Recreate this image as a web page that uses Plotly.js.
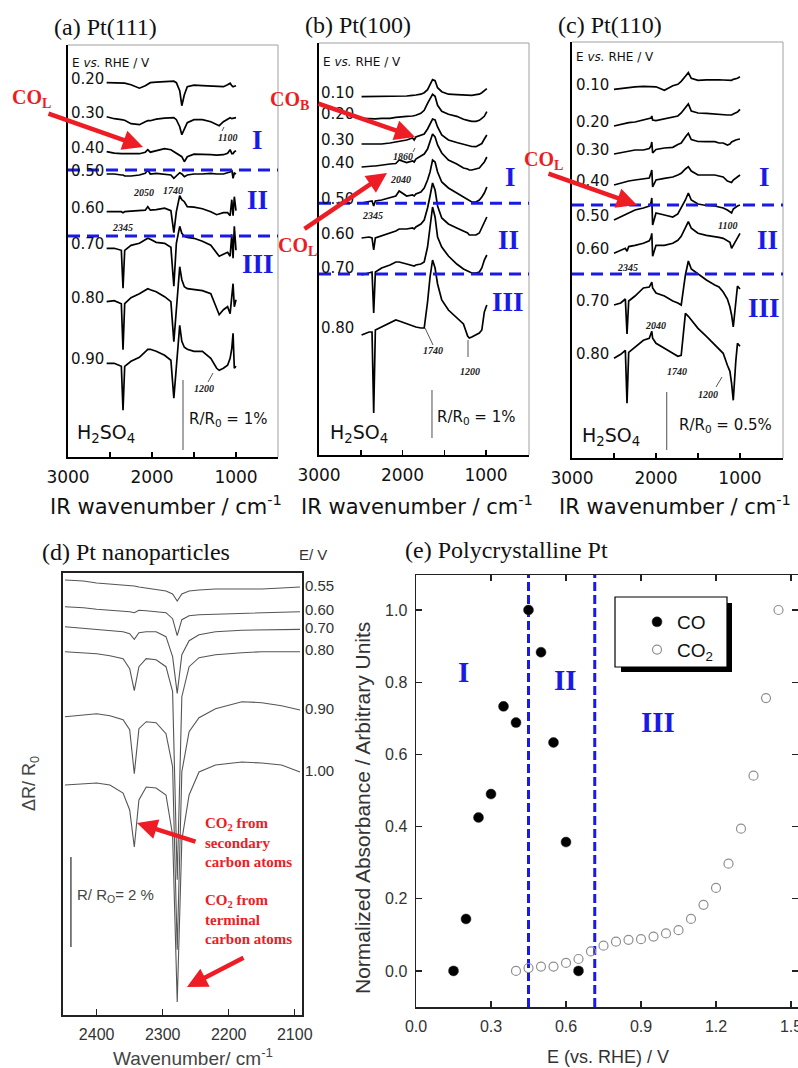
<!DOCTYPE html>
<html><head><meta charset="utf-8">
<script src="https://cdn.plot.ly/plotly-3.0.1.min.js"></script>
<style>html,body{margin:0;padding:0;background:#fff}#chart{width:798px;height:1068px}</style>
</head><body><div id="chart"></div>
<script>
// ================= DATA =================
// Panel (a) Pt(111): potentials (V vs RHE), wavenumbers (cm-1), spectra (arb. units, stacked)
const aPotentials = ['0.20','0.30','0.40','0.50','0.60','0.70','0.80','0.90'];
const aWavenumber = [2540,2450,2365,2345,2325,2250,2150,2080,2050,2020,1950,1850,1775,1740,1710,1670,1645,1615,1580,1500,1400,1300,1230,1200,1150,1100,1070,1050,1035,1020,1000];
const aOffset = [374.3,340.3,305.3,282,245.3,208.7,155.3,93.7];
const a020 = [0,0,-0.5,-0.5,-0.5,-2,-5.5,-3,-1.5,0,0.5,1,1.5,1.5,0,-8,-23,-12,-4,-2.5,-3,-3.5,-4,-4,-4,-2,-0.5,-3,-4,-3.5,-3];
const a030 = [0,-2,-3,-3,-3.5,-7,-8,-5,-4,-4,-2.5,-1.5,-0.7,-1,-3,-10,-18,-13,-6,-3,-3,-5,-8,-9,-5,-2,-1,-2,-1.5,-1,-1];
const a040 = [0,-1.5,-2,-2,-2,-2.5,-2,-0.5,2,-0.5,1,3,2,0,-2,-4,-5,-10,-5,-2.5,-2.5,-3,-3.5,-3.5,-3,-1.5,2,-2,-2,0,1];
const a050 = [1,1,0,0,-1,-1,0,1.7,5,1,1.7,1,0,-3.3,-1,2.3,1,-1.7,0,1,1,1.7,1,1,1,2.3,3,5,-3.3,2,1];
const a060 = [0,0,0,-1,0,0.5,1,1.5,5,1.5,2,3.5,1,-21,0,16,12,10,5,4.5,3,0,-3,-2,-1,-1,-4,12,-4,15,1];
const a070 = [0,0,-2,-40,-2,3,5,8,10,9,6,5,1,-38,5,22,15,12,11,10,7,3,-5,-8,-6,-4,-8,14,-10,22,-2];
const a080 = [0,1,-2,-48,-2,4,8,12,13,12,10,5,0,-40,-5,35,22,15,13,12,11,8,-8,-13,-8,-5,-12,5,18,-5,2];
const a090 = [0,0,-3,-47,-3,2,6,11,14,14,12,8,3,-35,-5,38,22,16,14,12,12,5,-5,-7,-5,-2,5,15,30,-5,-3];

// Panel (b) Pt(100)
const bPotentials = ['0.10','0.20','0.30','0.40','0.50','0.60','0.70','0.80'];
const bWavenumber = [2490,2400,2365,2345,2325,2250,2150,2080,2040,1950,1880,1860,1840,1780,1740,1700,1670,1640,1610,1580,1530,1450,1350,1270,1220,1200,1170,1120,1080,1050,1020,990];
const bOffset = [358.3,336.7,311,288,252,217,183,123];
const b010 = [0,0,0,0,0,0,0.3,0.5,0.5,0.7,1.3,1.7,1.7,2.5,4,7,12,17,16,9,5,2.5,2,1.5,1.5,1.5,1.3,2,2.5,4,6,8];
const b020 = [0,-0.5,-0.5,-0.5,-0.5,0,0,1,1.5,2,2.3,2.3,3,5,8,15,20,24,22,13,7,4,2,-1,-2,-2.5,-3,-3,-2,0,2,6.7];
const b030 = [0,0,0,0,-0.3,0,1,2,3,4,6,4,7,9,10,15,20,25,24,17,9,4,1.5,-0.5,-1.5,-2,-2.5,-2.7,-1,0.5,5,9];
const b040 = [0,1,1,1,1,2,3,3.5,7,4.5,6,5,8,11,13,18,25,33,30,22,14,7,3,-1,-2,-3,-3,-2,-1,2,5,10];
const b050 = [0,1,2,-3,2,3,5,7,12,7,8,7,9,11,15,23,31,43,41,31,21,15,10,6,3,2,1,1,3,6,10,16];
const b060 = [0,1,0,-12,0,2,5,7,9,9,10,9,11,14,18,30,42,55,48,32,20,14,10,7,5,3,3,3,5,10,15,21];
const b070 = [-3,-1,0,-41,0,4,7,10,10,8,6,6,7,8,10,25,45,65,55,35,25,16,8,3,1,0,-1,-1,0,4,12,17];
const b080 = [-3,0,0,-81,2,5,9,12,11,8,6,5,5,4,4,30,55,72,64,48,32,22,14,8,-4,-6,-5,-3,-1,2,20,27];

// Panel (c) Pt(110)
const cPotentials = ['0.10','0.20','0.30','0.40','0.50','0.60','0.70','0.80'];
const cWavenumber = [2500,2420,2365,2345,2325,2250,2150,2080,2060,2050,2040,2000,1900,1800,1740,1700,1650,1615,1580,1500,1400,1300,1250,1200,1150,1120,1100,1080,1050,1030,1000];
const cOffset = [368.7,332,304,273,238,204.7,153,99.7];
const c010 = [0,1,1.5,2,2,2.5,3,3,3,3,3,2.5,-1,3.5,5,8,13,16.7,11,9,9.5,10,9.5,9.3,9.3,9,9,10,10.5,11,12.5];
const c020 = [0,1.5,2.5,3,3.3,4,6,7.5,8,10,6,5.3,7,8.7,10,13,19,22,15,13,12.7,12,11,11,11,11,11,12,13,14,16.7];
const c030 = [0,1.5,2,2.5,3,4,4,5.5,8,12,1,4.5,6,6.7,9.5,11,17,20.7,14.5,12.5,12.3,12.3,11,11,9,10,12,13,14,14.5,15];
const c040 = [0,2,3,3.3,4,5,6,7,12,15,-2,5,6.7,8,10,11.7,16,18.3,14,10,10,10,9,8,4,3,2.5,5,7,8.5,10];
const c050 = [0,3,5,6,7,10,12,14,17,22,-5,7,5,3,6,12,20,27,20,16,14.5,14,13,12,10,8,7,11,13,14,15];
const c060 = [0,3,5,2,6.7,8,10,12.5,16,20,-3,8,8,10,13,17,25,31.7,25,20,18,17,16,15,13,11,5,8,13,17,20];
const c070 = [0,2,6,-29,4,9,17,18,21,23,17,12,9,4,2,0,30,44,36,31,25,20,18,13,6,-2,-10,-22,0,19,16];
const c080 = [0,4,8,-45,6,11,18,20,25,27,20,15,10,5,2,3,45,42,38,30,22,14,10,5,-7,-13,-25,-42,-3,15,12];

// Panel (d) Pt nanoparticles
const dPotentials = ['0.55','0.60','0.70','0.80','0.90','1.00'];
const dWavenumber = [2448,2420,2400,2380,2360,2350,2343,2336,2325,2310,2295,2285,2278,2271,2260,2245,2220,2180,2150,2120,2092];
const dOffset = [435,408.3,388.3,363.3,298.3,230];
const d055 = [0,-1,-3,-4,-5,-6,-6,-7,-8,-9,-11,-14,-21,-14,-11,-10,-9,-9,-9,-8,-7];
const d060 = [0,-1,-2.5,-3.5,-4,-5,-6,-3.5,-4,-5,-6,-12,-29,-13,-9,-8,-7.5,-7,-6.5,-6,-5];
const d070 = [0,-1.5,-2.7,-4,-5,-7,-12.7,-6,-5,-5,-10,-30,-66.7,-28,-14,-8,-5,-3.5,-3.3,-3.3,-2.7];
const d080 = [0,-1,-2,-4,-7,-17,-39,-15,-7,-8,-15,-40,-228,-45,-15,-6,-3,-1,0,0,0];
const d090 = [0,2,3,1,-3,-13,-57,-12,-5,-6,-17,-50,-233,-55,-15,-1,8,15,14,11,6.7];
const d100 = [0,1.5,2,0,-8,-25,-62,-15,-2,-3,-10,-50,-217,-55,-10,13,20,23,22,20,13];

// Panel (e) Polycrystalline Pt: normalized absorbance vs potential
const eCOPotential = [0.15,0.20,0.25,0.30,0.35,0.40,0.45,0.50,0.55,0.60,0.65];
const eCOAbsorbance = [0.0,0.144,0.425,0.49,0.733,0.688,1.0,0.883,0.633,0.357,0.0];
const eCO2Potential = [0.40,0.45,0.50,0.55,0.60,0.65,0.70,0.75,0.80,0.85,0.90,0.95,1.00,1.05,1.10,1.15,1.20,1.25,1.30,1.35,1.40,1.45];
const eCO2Absorbance = [0.0,0.008,0.012,0.012,0.022,0.033,0.054,0.07,0.081,0.086,0.088,0.095,0.104,0.113,0.144,0.183,0.23,0.297,0.394,0.541,0.756,1.0];
const eRegionBounds = [0.45, 0.715];

// ================= BUILD =================
const W = 798, H = 1068;
const X = px => px / W;
const Y = py => 1 - py / H;
const BLUE = '#1a1ae6', RED = '#ee1c24';
const SANS = 'DejaVu Sans', ARIAL = 'Liberation Sans', SERIF = 'Liberation Serif';

function stack(wn, spectra, offsets, xa, ya, color, width) {
  return spectra.map((s, i) => ({
    type: 'scatter', mode: 'lines', x: wn, y: s.map(v => v + offsets[i]),
    xaxis: xa, yaxis: ya, line: {color: color, width: width}, showlegend: false, hoverinfo: 'skip'
  }));
}

const traces = [].concat(
  stack(aWavenumber, [a020,a030,a040,a050,a060,a070,a080,a090], aOffset, 'x', 'y', '#000', 1.7),
  stack(bWavenumber, [b010,b020,b030,b040,b050,b060,b070,b080], bOffset, 'x2', 'y2', '#000', 1.7),
  stack(cWavenumber, [c010,c020,c030,c040,c050,c060,c070,c080], cOffset, 'x3', 'y3', '#000', 1.7),
  stack(dWavenumber, [d055,d060,d070,d080,d090,d100], dOffset, 'x4', 'y4', '#555', 1.1)
);
traces.push({type:'scatter', mode:'markers', x:eCOPotential, y:eCOAbsorbance, xaxis:'x5', yaxis:'y5',
  name:'CO', legendgroup:'g1', marker:{color:'#000', size:10, line:{color:'#333', width:0.5}}, hoverinfo:'skip'});
traces.push({type:'scatter', mode:'markers', x:eCO2Potential, y:eCO2Absorbance, xaxis:'x5', yaxis:'y5',
  name:'CO<sub>2</sub>', legendgroup:'g2', marker:{color:'#8f8f8f', size:9, symbol:'circle-open', line:{color:'#8f8f8f', width:1.2}}, hoverinfo:'skip'});

const topX = {showline:true, linecolor:'#000', linewidth:2, ticks:'inside', ticklen:5, tickwidth:1.5, tickcolor:'#000',
  tickvals:[3000,2000,1000], ticktext:['3000','2000','1000'], ticklabelstandoff:4,
  minor:{tickvals:[2500,1500], ticks:'inside', ticklen:5, tickwidth:1.5, tickcolor:'#000', showgrid:false},
  tickfont:{family:SANS, size:17, color:'#111'}, showgrid:false, zeroline:false, fixedrange:true};
const topY = {showline:true, linecolor:'#000', linewidth:2, showticklabels:false, ticks:'', showgrid:false, zeroline:false, fixedrange:true};

const layout = {
  width: W, height: H, margin: {l:0, r:0, t:0, b:0}, paper_bgcolor:'#fff', plot_bgcolor:'rgba(0,0,0,0)',
  font: {family: SANS, color:'#111'},
  xaxis: Object.assign({}, topX, {domain:[X(68), X(278)], anchor:'y', range:[3000, 500]}),
  yaxis: Object.assign({}, topY, {domain:[Y(457), Y(45)], anchor:'x', range:[0, 412]}),
  xaxis2: Object.assign({}, topX, {domain:[X(319), X(529)], anchor:'y2', range:[3000, 485]}),
  yaxis2: Object.assign({}, topY, {domain:[Y(455), Y(43)], anchor:'x2', range:[0, 412]}),
  xaxis3: Object.assign({}, topX, {domain:[X(572), X(783)], anchor:'y3', range:[3000, 488]}),
  yaxis3: Object.assign({}, topY, {domain:[Y(458), Y(42)], anchor:'x3', range:[0, 416]}),
  xaxis4: {domain:[X(63), X(302)], anchor:'y4', range:[2451, 2089], showline:true, mirror:true, linecolor:'#222', linewidth:2,
    ticks:'inside', ticklen:6, tickwidth:1.5, tickcolor:'#222', tickvals:[2400,2300,2200,2100], ticklabelstandoff:4,
    tickfont:{family:ARIAL, size:16, color:'#333'}, showgrid:false, zeroline:false},
  yaxis4: {domain:[Y(1015), Y(573)], anchor:'x4', range:[0, 442], showline:true, mirror:true, linecolor:'#222', linewidth:2,
    showticklabels:false, ticks:'', showgrid:false, zeroline:false},
  xaxis5: {domain:[X(416), X(798)], anchor:'y5', range:[0, 1.528], showline:true, mirror:'ticks', linecolor:'#222', linewidth:1.5,
    ticks:'inside', ticklen:6, tickwidth:1.2, tickcolor:'#222', tickvals:[0,0.3,0.6,0.9,1.2,1.5], ticktext:['0.0','0.3','0.6','0.9','1.2','1.5'],
    ticklabeloverflow:'allow', ticklabelstandoff:4, tickfont:{family:ARIAL, size:16, color:'#333'}, showgrid:false, zeroline:false},
  yaxis5: {domain:[Y(1007), Y(575)], anchor:'x5', range:[-0.1, 1.097], showline:true, mirror:'ticks', linecolor:'#222', linewidth:1.5,
    ticks:'inside', ticklen:6, tickwidth:1.2, tickcolor:'#222', tickvals:[0,0.2,0.4,0.6,0.8,1.0], ticktext:['0.0','0.2','0.4','0.6','0.8','1.0'],
    ticklabelstandoff:4, tickfont:{family:ARIAL, size:16, color:'#333'}, showgrid:false, zeroline:false},
  showlegend: true,
  legend: {x: X(637), y: Y(603), xanchor:'left', yanchor:'top', bgcolor:'rgba(0,0,0,0)', borderwidth:0,
    font:{family:ARIAL, size:19, color:'#111'}, traceorder:'grouped', tracegroupgap:0, itemwidth:30},
  shapes: [], annotations: []
};

const S = layout.shapes, AN = layout.annotations;
// gray top/right frame of top panels
[['x','y'],['x2','y2'],['x3','y3']].forEach(([xa, ya]) => {
  S.push({type:'line', xref:xa+' domain', yref:ya+' domain', x0:0, x1:1, y0:1, y1:1, line:{color:'#a0a0a0', width:1}});
  S.push({type:'line', xref:xa+' domain', yref:ya+' domain', x0:1, x1:1, y0:0, y1:1, line:{color:'#a0a0a0', width:1}});
});
// region boundaries (dashed blue) in top panels
[['x','y',287],['x','y',221],['x2','y2',251.7],['x2','y2',181],['x3','y3',253],['x3','y3',184]].forEach(([xa, ya, yv]) => {
  S.push({type:'line', xref:xa+' domain', yref:ya, x0:0, x1:1, y0:yv, y1:yv, line:{color:BLUE, width:3, dash:'12px,7px'}});
});
// scale bars
S.push({type:'line', xref:'x', yref:'y', x0:1631, x1:1631, y0:7, y1:77, line:{color:'#777', width:1.3}});
S.push({type:'line', xref:'x2', yref:'y2', x0:1647, x1:1647, y0:17, y1:65, line:{color:'#777', width:1.3}});
S.push({type:'line', xref:'x3', yref:'y3', x0:1873, x1:1873, y0:8, y1:66, line:{color:'#777', width:1.3}});
S.push({type:'line', xref:'x4', yref:'y4', x0:2439, x1:2439, y0:68, y1:158, line:{color:'#555', width:1.5}});
// (e) region boundaries
eRegionBounds.forEach(v => S.push({type:'line', xref:'x5', yref:'y5 domain', x0:v, x1:v, y0:0, y1:1, layer:'below',
  line:{color:BLUE, width:3, dash:'9px,4px'}}));
// (e) legend box with shadow
S.push({type:'rect', xref:'paper', yref:'paper', x0:X(621), x1:X(732), y0:Y(672), y1:Y(603), fillcolor:'#000', line:{width:0}});
S.push({type:'rect', xref:'paper', yref:'paper', x0:X(615), x1:X(727), y0:Y(667), y1:Y(597), fillcolor:'#fff', line:{color:'#000', width:1.2}});
// leader ticks for band labels
[[208,382,213,373],[425,328,433,345],[468,340,468,357],[716,387,722,377],[222,131,224,127],[413,152,415,148]].forEach(([x0,y0,x1,y1]) =>
  S.push({type:'line', xref:'paper', yref:'paper', x0:X(x0), y0:Y(y0), x1:X(x1), y1:Y(y1), line:{color:'#555', width:1}}));

function A(text, px, py, font, extra) {
  AN.push(Object.assign({text:text, xref:'paper', yref:'paper', x:X(px), y:Y(py), showarrow:false,
    xanchor:'center', yanchor:'middle', font:font}, extra || {}));
}
function arrow(tx, ty, hx, hy) {
  AN.push({text:'', xref:'paper', yref:'paper', x:X(hx), y:Y(hy), ax:tx-hx, ay:ty-hy, showarrow:true,
    arrowhead:2, arrowsize:0.9, arrowwidth:4.5, arrowcolor:RED, standoff:0});
}

// panel titles
A('(a) Pt(111)', 105, 27, {family:SERIF, size:24, color:'#111'});
A('(b) Pt(100)', 358, 25, {family:SERIF, size:24, color:'#111'});
A('(c) Pt(110)', 610, 25, {family:SERIF, size:24, color:'#111'});
A('(d) Pt nanoparticles', 136, 552, {family:SERIF, size:24, color:'#111'});
A('(e) Polycrystalline Pt', 506, 550, {family:SERIF, size:24, color:'#111'});

// E vs RHE headers
[[70,63],[321,62],[574,57]].forEach(([px,py]) => A('E <i>vs.</i> RHE / V', px, py, {family:SANS, size:12, color:'#111'}, {xanchor:'left'}));

// potential labels
function potLabels(labels, offsets, ya, px) {
  labels.forEach((t, i) => AN.push({text:t, xref:'paper', yref:ya, x:X(px), y:offsets[i] + 4, xanchor:'right', yanchor:'middle',
    showarrow:false, font:{family:SANS, size:15, color:'#111'}}));
}
potLabels(aPotentials, aOffset, 'y', 106);
potLabels(bPotentials, bOffset, 'y2', 356);
potLabels(cPotentials, cOffset, 'y3', 611);
const dSpectra = [d055,d060,d070,d080,d090,d100];
dPotentials.forEach((t, i) => AN.push({text:t, xref:'paper', yref:'y4', x:X(303), y:dOffset[i] + dSpectra[i][dSpectra[i].length-1] + 2,
  xanchor:'left', yanchor:'middle', showarrow:false, font:{family:ARIAL, size:15, color:'#333'}}));
A('E/ V', 313, 554, {family:ARIAL, size:15, color:'#333'});

// roman numerals
const rom = {family:SERIF, size:27, color:BLUE};
[['I',257,140],['II',257,200],['III',258,264],['I',510,177],['II',508,240],['III',508,302],['I',764,177],['II',767,240],['III',764,308]]
  .forEach(([t,px,py]) => A('<b>'+t+'</b>', px, py, rom));
const rom2 = {family:SERIF, size:29, color:BLUE};
[['I',463,672],['II',565,680],['III',658,722]].forEach(([t,px,py]) => A('<b>'+t+'</b>', px, py, rom2));

// small band labels
const small = {family:SERIF, size:10, color:'#222'};
[['1100',227,137],['2050',143,193],['1740',173,190],['2345',122,228],['1200',204,389],
 ['1860',403,157],['2040',400,180],['2345',372,215],['1740',433,351],['1200',470,372],
 ['1100',727,225],['2345',627,267],['2040',655,325],['1740',677,372],['1200',708,394]]
  .forEach(([t,px,py]) => A('<b><i>'+t+'</i></b>', px, py, small));

// electrolyte and scale texts
[[75,433],[328,433],[580,436]].forEach(([px,py]) => A('H<sub>2</sub>SO<sub>4</sub>', px, py, {family:SANS, size:19, color:'#111'}, {xanchor:'left'}));
A('R/R<sub>0</sub> = 1%', 187, 419, {family:SANS, size:15, color:'#111'}, {xanchor:'left'});
A('R/R<sub>0</sub> = 1%', 435, 417, {family:SANS, size:15, color:'#111'}, {xanchor:'left'});
A('R/R<sub>0</sub> = 0.5%', 677, 425, {family:SANS, size:15, color:'#111'}, {xanchor:'left'});
A('R/ R<sub>O</sub>= 2 %', 75, 895, {family:ARIAL, size:15, color:'#444'}, {xanchor:'left'});

// axis titles
[166,417,675].forEach(px => A('IR wavenumber / cm<sup>-1</sup>', px, 505, {family:SANS, size:21, color:'#111'}));
A('Wavenumber/ cm<sup>-1</sup>', 193, 1057, {family:ARIAL, size:19, color:'#444'});
A('ΔR/ R<sub>0</sub>', 30, 784, {family:ARIAL, size:18, color:'#444'}, {textangle:-90});
A('E (vs. RHE) / V', 608, 1057, {family:ARIAL, size:18, color:'#333'});
A('Normalized Absorbance / Arbitrary Units', 362, 808, {family:ARIAL, size:21, color:'#333'}, {textangle:-90});

// red annotations
const redF = {family:SERIF, size:20, color:RED};
A('<b>CO<sub>L</sub></b>', 31, 98, redF);
A('<b>CO<sub>B</sub></b>', 289, 101, redF);
A('<b>CO<sub>L</sub></b>', 297, 247, redF);
A('<b>CO<sub>L</sub></b>', 543, 160, redF);
arrow(47, 113, 143, 147);
arrow(317, 103, 415, 137);
arrow(303, 230, 387, 173);
arrow(547, 173, 637, 205);
A('<b>CO<sub>2</sub> from<br>secondary<br>carbon atoms</b>', 203, 813, {family:SERIF, size:15, color:RED}, {xanchor:'left', yanchor:'top', align:'left'});
A('<b>CO<sub>2</sub> from<br>terminal<br>carbon atoms</b>', 203, 890, {family:SERIF, size:15, color:RED}, {xanchor:'left', yanchor:'top', align:'left'});
arrow(197, 842, 137, 823);
arrow(245, 957, 187, 987);

Plotly.newPlot('chart', traces, layout, {displayModeBar:false, staticPlot:true});
</script>
</body></html>
